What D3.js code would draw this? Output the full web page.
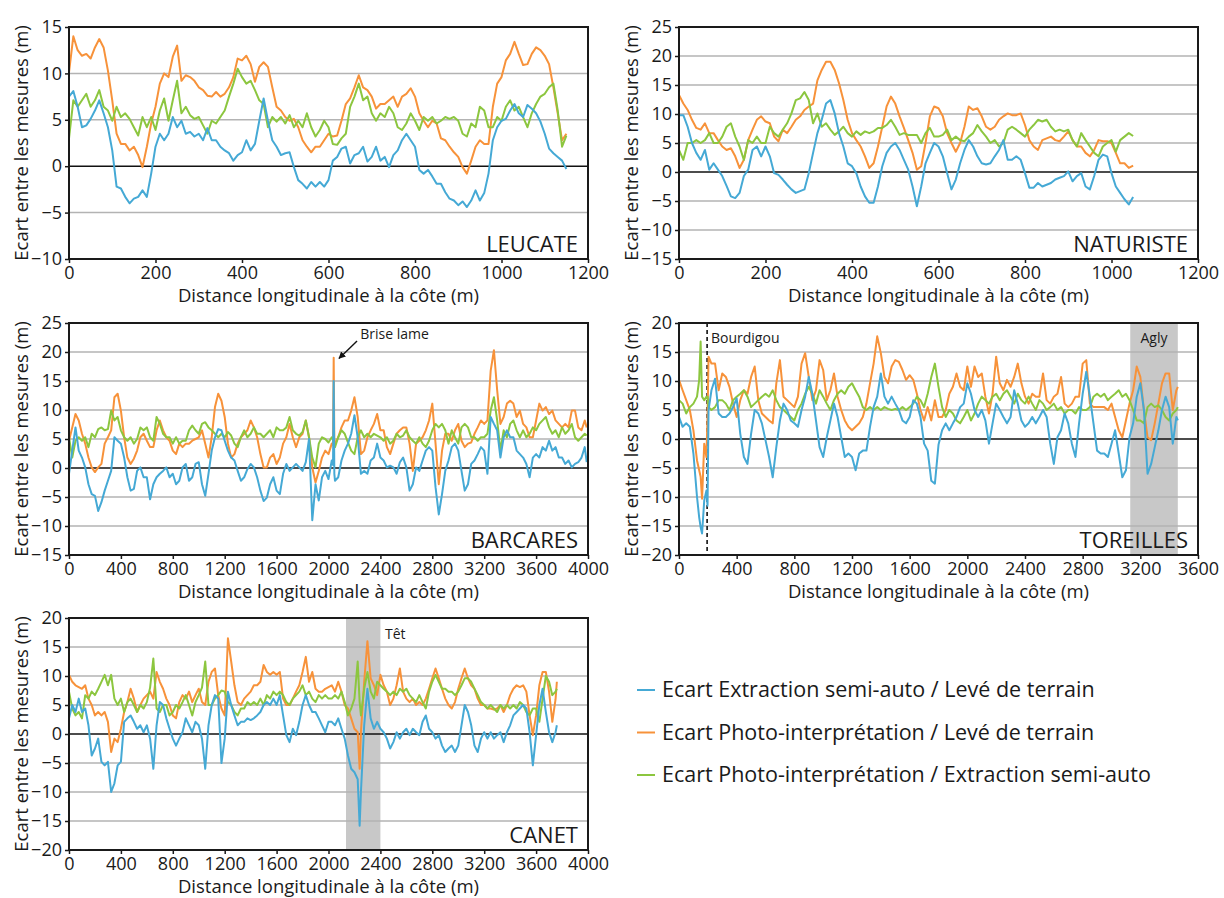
<!DOCTYPE html>
<html>
<head>
<meta charset="utf-8">
<script src="https://cdn.jsdelivr.net/npm/d3@7"></script>
<style>
  body { margin: 0; background: #fff; }
  svg text { font-family: 'Open Sans', 'Noto Sans', sans-serif; fill: #1a1a1a; }
</style>
</head>
<body>
<div id="chart"></div>
<script>
'use strict';

// legend
const seriesNames = [
  'Ecart Extraction semi-auto / Levé de terrain',
  'Ecart Photo-interprétation / Levé de terrain',
  'Ecart Photo-interprétation / Extraction semi-auto'
];
const seriesColors = ['#45a9d5', '#f7923a', '#8cc63f'];

// LEUCATE (every 10 m)
const leucateDist = d3.range(0, 1151, 10);
const leucateBlue = [
  7.5, 8.1, 6.4, 4.2, 4.4, 5.1, 6, 7.1, 5.7, 4.2,
  1.7, -2.2, -2.4, -3.3, -4, -3.5, -3.3, -2.6, -3.3, -0.8,
  2.1, 3.5, 2.8, 3.5, 5.3, 4.2, 4.9, 3.5, 3.7, 3.2,
  3.5, 2.8, 4.1, 2.8, 2.8, 2.1, 1.7, 1.4, 0.6, 1.2,
  1.5, 2.8, 1.7, 2.4, 4.9, 7.3, 4.9, 2.8, 2.1, 1.2,
  1.4, 1.5, -0.1, -1.5, -1.9, -2.4, -1.7, -2.2, -1.7, -2.2,
  -1.5, 0.6, 1, 1.9, 2.1, 0.3, 1.2, 1.4, 2.1, 0.5,
  1, 2.1, 0.6, 1, -0.1, 1.2, 1.7, 2.8, 3.5, 2.8,
  2.1, -0.4, -0.8, -0.4, -1.1, -1.9, -1.9, -2.8, -3.5, -3.7,
  -4.2, -3.8, -4.4, -3.7, -2.6, -3.7, -2.9, -0.8, 2.8, 4.2,
  4.9, 5.1, 6, 6.7, 5.7, 5.3, 6.6, 6.2, 5.7, 4.8,
  3.5, 1.9, 1.4, 1, 0.6, -0.3
];
const leucateOrange = [
  10.1, 14, 12.5, 11.9, 12.1, 11.6, 12.8, 13.7, 12.8, 10.3,
  7.1, 3.5, 2.4, 2.4, 1.7, 2.1, 1.2, -0.1, 2.1, 4.6,
  6.4, 8.9, 10, 9.6, 11.8, 13, 9.2, 9.8, 9.6, 9.2,
  8.5, 8.2, 7.6, 7.5, 8, 7.5, 7.8, 8.5, 9.6, 11.6,
  11.4, 11.9, 11, 9.1, 10.7, 11.2, 10.7, 8.5, 6.4, 6,
  5.3, 4.9, 5.1, 4.2, 2.8, 2.1, 1.5, 2.1, 2.1, 2.8,
  3.5, 3.2, 3.3, 4.9, 6.7, 7.3, 8.5, 9.8, 8.5, 8.2,
  7.5, 6.2, 6.7, 6.7, 7.1, 7.5, 6.4, 7.5, 7.8, 8.4,
  7.5, 5.7, 4.9, 4.2, 4.9, 4.6, 3, 2.8, 2.1, 1.5,
  1, -0.1, -0.8, 0.6, 2.1, 2.8, 2.4, 2.4, 6.4, 8.9,
  9.6, 11.4, 12.1, 13.4, 12.1, 10.9, 11, 12.1, 12.8, 12.5,
  11.9, 11, 8.5, 5.7, 2.8, 3.5
];
const leucateGreen = [
  3, 7.1, 6.4, 7.1, 7.8, 6.4, 7.1, 8.2, 6.4, 6,
  4.9, 6.4, 5.3, 5.7, 5.1, 4.2, 3.3, 5.3, 4.2, 5.3,
  3.9, 6, 7.3, 4.9, 7.1, 9.2, 5.7, 6.4, 5.5, 5.1,
  5.3, 4.4, 3.5, 4.9, 4.6, 5.3, 6, 7.5, 8.9, 10.5,
  9.6, 8.9, 9.2, 8.2, 7.1, 6.7, 4.2, 5.3, 4.8, 5.3,
  4.6, 5.5, 4.2, 4.9, 4.2, 5.7, 4.2, 3.2, 3.9, 4.9,
  4.2, 2.4, 2.3, 3, 3.5, 6.4, 7.5, 8.9, 7.1, 7.5,
  5.7, 4.9, 5.7, 5.3, 6.4, 5.7, 4.2, 3.9, 4.6, 5.7,
  4.9, 3.9, 5.3, 4.9, 5.3, 4.6, 4.9, 5.3, 5.1, 5.3,
  4.9, 3.5, 3.2, 4.6, 4.2, 6.4, 6, 4.2, 4.2, 5.3,
  4.9, 6.4, 7.1, 6, 6.4, 5.3, 4.2, 5.7, 6.7, 7.5,
  7.8, 8.5, 8.9, 6, 2.1, 3.3
];

// NATURISTE (every 10 m)
const naturisteDist = d3.range(0, 1051, 10);
const naturisteBlue = [
  9.8, 9.8, 7.8, 5, 3.3, 2.1, 3.8, 0.4, 1.5, 0.4,
  -0.7, -2.4, -4.2, -4.5, -3.6, -0.7, 0.4, 3.8, 4.4, 2.7,
  4.4, 2.7, -0.2, -0.5, -1.3, -2.2, -3, -3.6, -3.3, -3,
  -0.2, 3.3, 6.7, 9, 11.8, 12.4, 10.1, 6.7, 4.4, 1.5,
  1, -0.2, -2.5, -4.2, -5.3, -5.3, -2.5, 1, 3.3, 4.4,
  5, 3.8, 2.1, 0.4, -2.5, -5.9, -2.5, 1.5, 3.3, 5,
  4.4, 2.7, -0.2, -3, -1.3, 1.5, 3.8, 5.5, 4.4, 2.7,
  1.5, 1.3, 1.5, 2.7, 3.8, 5.5, 2.1, 2.1, 2.7, 2.1,
  -0.2, -2.7, -2.7, -1.9, -2.5, -2.2, -1.9, -1.3, -1, -0.7,
  0.1, -1.6, -0.7, -0.2, -2.5, -3, -0.7, 2.1, 3, 2.7,
  -0.2, -2.5, -3.6, -4.7, -5.6, -4.3
];
const naturisteOrange = [
  13.3, 11.8, 10.7, 9, 7.6, 7.3, 8.4, 6.7, 6.7, 5.5,
  4.4, 3.8, 4.1, 2.7, 0.7, 2.1, 5.5, 7.3, 9, 9.6,
  8.7, 8.4, 6.1, 5.3, 7.3, 6.7, 7.8, 9, 9.6, 10.7,
  11.3, 11.8, 15.8, 17.6, 19, 19, 17.6, 15.3, 12.4, 9,
  6.7, 5.5, 4.4, 2.7, 0.7, 1.5, 4.4, 7.8, 11.3, 13,
  11.8, 9.6, 7.6, 5.5, 3.3, 0.4, 1, 5, 9.6, 11.3,
  11, 9.6, 6.7, 5, 3.5, 5, 7.8, 11.3, 10.7, 11,
  9.6, 7.8, 7.3, 7.8, 9, 9.6, 10.1, 9.8, 9.8, 10.1,
  8.1, 5.5, 4.4, 3.8, 5.5, 5.8, 6.1, 5.5, 5.3, 6.1,
  7, 5.5, 4.4, 4.4, 3.3, 2.7, 3.8, 5.5, 5.3, 5.3,
  5, 3.3, 1.5, 1.5, 0.7, 1.1
];
const naturisteGreen = [
  3.8, 2.1, 5, 5, 5.5, 5, 5.5, 6.7, 5, 5,
  6.1, 7.8, 8.4, 6.1, 4.4, 2.1, 5.5, 5, 6.1, 5,
  5, 7.8, 6.7, 6.1, 7.3, 8.4, 10.1, 12.4, 12.7, 13.8,
  12.4, 8.4, 10.1, 7.8, 8.4, 7.3, 6.4, 7, 7.8, 6.7,
  6.1, 7, 6.4, 7, 6.7, 7, 7.6, 7.6, 8.1, 9,
  7.8, 6.4, 6.7, 6.4, 6.4, 6.4, 5, 6.7, 7.6, 6.1,
  6.1, 6.4, 7.3, 5.5, 6.1, 5.5, 5.3, 6.1, 6.7, 8.1,
  7, 6.1, 5, 5.5, 4.4, 5, 7.3, 7.8, 7.3, 6.7,
  6.1, 7.3, 8.1, 9, 8.7, 9, 7.8, 7, 7.3, 7,
  7.3, 5.5, 4.4, 6.7, 5.5, 4.4, 3.3, 2.7, 4.4, 5,
  5.5, 3.5, 5.5, 6.1, 6.7, 6.2
];

// BARCARES (every 25 m, plus the breakwater spike)
const barcaresDist = [...d3.range(0, 2026, 25), 2035, 2040, 2045, ...d3.range(2050, 3976, 25), 3990];
const barcaresBlue = [
  -1, 3, 7, 3, 1.8, 0.1, -2.8, -4.5, -4.8, -7.4,
  -5.9, -3.9, -2.2, -0.5, 5.3, 4.7, 4.2, 1.8, -1.6, -3.9,
  -3.6, -0.5, 0.1, -1.6, -1.6, -5.4, -2.8, -1.6, -1, -0.5,
  0.1, -1.6, -1, -2.8, -2.2, 0.1, 0.7, -2.2, -1.6, 0.7,
  1, -2.8, -4.8, -1, 3, 5.3, 6.7, 6.5, 4.7, 3,
  1.8, 1.3, -0.5, -2.2, -1.6, -0.2, 0.7, 0.1, -1.6, -3.9,
  -5.7, -5.1, -2.8, -1.6, -3.9, -4.5, -1, 0.7, -0.5, 0.1,
  0.7, 0.1, -0.5, 1, 5, -9, -2.8, -5.6, -1.6, -0.5,
  -1.9, 1.3,
  0.5, 15, -1,
  -2.2, -1.6, 1.3, 3, 4.2, 5.9, 9.1, 5.3, -1, -0.5,
  -1, 1.3, 1.8, 4.2, 1.8, 1.3, 0.1, 0.4, 0.1, -1,
  1, 1.8, 0.1, -3.9, -2.8, 0.1, -0.5, 1.3, 3, 3.6,
  3, -3.3, -8, -4.5, -0.5, 1.3, 3.6, 4.2, 3, -0.5,
  -3.9, -2.8, 0.7, 1.3, 2.4, 3.6, 3, -1, 8.8, 7.6,
  6.5, 1.8, 5.3, 6.5, 5.3, 5.3, 3, 2.4, 1.8, 0.7,
  -1.6, 1.8, 2.4, 1.8, 3.6, 3, 4.7, 3, 3.6, 1.8,
  1.8, 0.7, 1.3, 0.1, 0.7, 1, 1.8, 3.6,
  1
];
const barcaresOrange = [
  4.7, 7, 9.3, 8.2, 5.9, 4.2, 1.8, 0.1, -0.7, 0.1,
  0.7, 4.2, 5.3, 6.5, 12.2, 12.8, 9.9, 5.3, 1.8, 0.7,
  1.6, 3, 5.3, 5.9, 4.7, 3.6, 3.6, 6.5, 8.2, 6.5,
  5.3, 4.7, 3, 2.4, 4.2, 3.6, 4.2, 4.2, 4.7, 5,
  5.3, 6.5, 4.2, 1.8, 5.3, 10.5, 12.8, 11.6, 8.8, 4.2,
  1.8, 2.4, 4.2, 5.3, 5.9, 6.5, 8.2, 7, 5.3, 2.4,
  0.1, 0.1, 1.8, 2.4, 0.7, 1.8, 4.2, 5.3, 7.6, 5.3,
  3.6, 5.3, 5.9, 8.2, 5.3, 0.1, -2.5, -0.5, 1.8, 3,
  2.4, 4.2,
  4, 19, 4.5,
  4.2, 5.3, 7, 8.2, 8.2, 9.9, 12.2, 8.8, 2.4, 3,
  5.3, 6.5, 7.6, 9.3, 6.5, 6.5, 3.6, 2.4, 4.2, 5.9,
  6.5, 7, 7, 4.2, -0.5, 4.2, 4.7, 5.3, 6.5, 8.2,
  11.1, 4.2, -2.8, 3, 5.9, 5.9, 4.7, 6.5, 7.6, 4.7,
  3.6, 4.2, 4.4, 5.9, 7, 8.2, 7.6, 8.2, 16.8, 20.3,
  13.4, 7.6, 8.8, 11.1, 11.6, 11.1, 8.8, 9.9, 7.6, 7,
  5.3, 5.3, 8.2, 11.1, 9.9, 10.5, 9.3, 9.9, 8.2, 7.6,
  7, 7.6, 7, 9.9, 9.9, 7, 6.5, 8.2,
  7
];
const barcaresGreen = [
  5.3, 1.8, 4.7, 5.3, 4.7, 5.3, 3.6, 5.9, 5.3, 6.7,
  7, 6.5, 6.7, 9.9, 8.2, 8.8, 6.5, 5.3, 4.7, 5.3,
  4.2, 5, 7, 6.5, 7, 5.3, 4.7, 8.8, 7.6, 5.9,
  5.3, 5.3, 4.2, 5.3, 4.2, 4.7, 4.7, 6.5, 7.3, 6.5,
  5.9, 7.6, 7.9, 7, 6.5, 5.9, 5.3, 5.9, 5.3, 6.2,
  5.6, 4.2, 3.6, 5.3, 6.5, 5.3, 5.9, 7, 5.9, 5.9,
  5.3, 5.9, 6.5, 5.3, 7, 6.5, 6.5, 7, 8.8, 6.5,
  5.9, 5.6, 6.2, 8.2, 5.3, 1.8, 0.1, 4.2, 5.3, 5,
  4.4, 5.3,
  5, 4.5, 4,
  3.6, 5.3, 6.5, 5.9, 4.4, 3, 2.4, 5.3, 6.5, 5.3,
  5.9, 5.3, 5.9, 5.6, 5.3, 4.7, 5.3, 4.2, 4.7, 5.9,
  5.3, 5.6, 6.5, 5.3, 4.7, 4.2, 5.3, 4.2, 3.6, 4.7,
  6.5, 7.6, 7, 7.6, 6.5, 4.2, 6.5, 5.3, 4.2, 7,
  7.6, 7, 5.3, 5.3, 4.7, 5.3, 5.3, 5.9, 9.9, 12.2,
  8.2, 3, 6.5, 5.3, 7.6, 8.2, 6.5, 5.3, 6.5, 5.3,
  5.9, 7, 6.5, 7.6, 8.2, 8.8, 7, 5.9, 6.5, 5.3,
  7, 5.9, 6.5, 7.6, 5.3, 4.7, 5.3, 5.9,
  5.6
];

// TOREILLES (every 25 m, denser near the Bourdigou mouth)
const toreillesDist = [0, 25, 50, 75, 100, 125, 140, 150, 160, 175, 190, 198, 205, 225, ...d3.range(250, 3451, 25), 3460];
const toreillesBlue = [
  3.8, 2.1, 2.7, 2.1, -2.5, -10, -13.5, -15.2, -16.3, -10.6, -8.9, -11.5, 5, 8.4,
  10.4, 4.4, 3.8, 3.8, 4.4, 5.5, 7, 0.9, -3.1, -4.3,
  0.9, 5, 4.4, 2.7, -0.2, -3.1, -6.6, -1.4, 3.2, 6.1,
  5, 3.2, 2.7, 2.1, 5, 7.3, 10.7, 7.8, 3.2, -1.4,
  -3.1, 0.3, 3.2, 6.1, 3.8, 0.3, -3.1, -2.5, -3.1, -5.4,
  -2.5, -2, -2, 2.1, 5.5, 7.3, 11.3, 7.3, 6.1, 7.3,
  6.1, 5, 3.2, 2.7, 3.8, 6.7, 6.1, 3.8, -0.8, -2,
  -7.2, -7.7, -1, 1.5, 2.7, 1.5, 2.7, 3.8, 5.5, 6.1,
  9.6, 7.8, 5, 3.8, 5, 3.2, -0.8, 2.7, 6.1, 5,
  3.8, 2.7, 3.8, 8.4, 6.1, 3.2, 2.1, 2.7, 3.8, 2.7,
  3.8, 5, 3.8, -0.8, -4.3, 0.3, 1.5, 4.4, 2.7, -0.8,
  -3.1, 2.7, 7.8, 11.6, 7.3, 2.7, -2, -2.5, -2.5, -3.1,
  -0.8, 1.5, -2.5, -6.6, -5.4, 0.3, 2.7, 7.3, 9.6, 5,
  -6, -4.3, -1.4, 1.5, 5, 7.3, 5.5, -0.8, 3.8,
  3.2
];
const toreillesOrange = [
  10.2, 8.4, 6.7, 5, 1.5, -3.7, -5.4, -6.5, -10.3, -0.8, -3.1, 4, 14.2, 13,
  13, 8.4, 11.3, 10.7, 9, 6.1, 3.8, 6.7, 8.4, 7.8,
  10.7, 12.5, 6.7, 4.4, 3.8, 3.2, 2.7, 9.6, 13.6, 7.3,
  6.7, 6.1, 5.5, 7.3, 13, 14.8, 10.7, 6.7, 8.4, 13.6,
  11.9, 6.7, 8.4, 11.3, 7.3, 5, 3.2, 2.1, 1.5, 2.1,
  2.7, 3.8, 6.1, 9.6, 13, 17.7, 14.8, 10.7, 9.6, 12.5,
  13.6, 13.3, 11.9, 10.2, 11, 10.2, 7.8, 5, 3.2, 5.5,
  3.2, 6.7, 3.8, 3.8, 5, 7.8, 9, 11.3, 9, 8.4,
  12.5, 9, 12.5, 10.7, 11.3, 7.3, 4.4, 7.8, 14.2, 9.6,
  8.4, 10.2, 9, 10.7, 13, 9.6, 7.3, 6.1, 7.8, 7.3,
  7.3, 11.3, 6.7, 6.1, 7.3, 7.8, 10.7, 6.1, 5.5, 6.1,
  7.3, 7.3, 13, 13.6, 6.1, 5.5, 5.5, 5.5, 5.5, 5,
  6.1, 3.8, 1.5, 0.3, 3.2, 6.1, 8.4, 12.5, 10.7, 5,
  0.3, -0.2, 2.7, 6.1, 9.6, 11.3, 11.3, 5, 8.4,
  9
];
const toreillesGreen = [
  6.7, 6.1, 4.4, 5.5, 6.1, 7.3, 10.2, 16.8, 7.3, 6.7, 7.3, 7.3, 5.5, 5,
  5.5, 6.7, 6.7, 6.1, 5, 6.7, 7.3, 7.8, 8.4, 7.3,
  5.5, 6.1, 6.7, 7.3, 7.8, 7.3, 8.4, 6.7, 5.5, 5,
  4.4, 3.8, 3.2, 5, 6.1, 7.8, 9, 7.8, 6.1, 8.4,
  7.3, 6.1, 5, 6.7, 7.8, 8.4, 7.8, 9, 9.6, 8.4,
  7.3, 5.5, 5, 5.5, 5, 5.5, 5, 5.5, 5.2, 5,
  5.2, 5, 5.5, 5, 5.5, 6.1, 7.3, 6.7, 5.5, 7.8,
  10.7, 13, 9, 5.5, 3.8, 5, 4.4, 3.2, 2.7, 3.8,
  5, 3.2, 4.4, 6.1, 7.3, 6.7, 6.1, 7.3, 7.8, 6.7,
  7.8, 8.4, 7.3, 6.1, 7.8, 6.7, 6.1, 7.3, 6.1, 5,
  6.7, 6.1, 5, 5.5, 6.1, 5, 5.5, 4.4, 5, 5,
  4.4, 5.5, 5, 5, 5.5, 7.3, 7.8, 7.3, 7.8, 6.7,
  7.3, 7.8, 8.4, 7.3, 7.8, 6.7, 5, 3.2, 3.2, 2.7,
  5.5, 6.1, 5.5, 5.8, 5, 3.8, 3.2, 4.4, 5,
  5.5
];

// CANET (every 25 m, plus the Têt low point)
const canetDist = [...d3.range(0, 2226, 25), 2240, ...d3.range(2250, 3751, 25), 3760];
const canetBlue = [
  2.7, 5, 3.8, 6.1, 3.8, 4.4, 1.5, -3.7, -2.5, -0.8,
  -4.8, -5.4, -4.8, -10, -8.5, -5.4, -4.8, 2.1, 2.7, 3.2,
  2.1, 0.9, 1.5, 0.3, 1.5, -0.8, -6, 1.5, 5.5, 5,
  2.7, 0.9, -0.8, -2, -0.8, 0.3, 2.7, 1.5, 0.3, 2.1,
  1.5, -0.8, -6, 1.5, 5, 6.7, 6.1, -5, -0.8, 7.3,
  5, 3.2, 1.5, 2.1, 2.1, 2.7, 2.4, 2.7, 3.2, 3.8,
  5, 5.5, 5, 6.1, 5, 6.7, 3.2, -0.2, -1.4, 0.9,
  -0.2, 2.1, 5, 6.7, 5, 3.8, 3.8, 2.7, 1.5, 0.3,
  2.1, 2.1, 1.5, 2.7, 0.9, -0.8, -3.7, -6, -6.6, -7.8,
  -15.8,
  -10, 1.5, 7.8, 2.7, 0.9, 2.1, 0.9, 0.3, -0.8, -2.5,
  -1.4, 0.3, -0.8, 0.3, 0.9, -0.2, 0.9, 0.3, -0.2, 2.1,
  3.2, 0.9, 0.3, -0.8, -0.2, -2, -3.1, -2.5, -2, -3.1,
  -2, 1.5, 5, 3.8, 1.5, -2, -3.1, -0.8, 0.3, -0.8,
  0.3, -0.8, -0.2, 0.3, -1.4, 0.3, 1.5, 3.2, 3.8, 4.4,
  5, 4.4, 0.3, -5.4, -0.2, 5, 7.8, 3.8, 0.3, -1.4,
  0.3,
  1.5
];
const canetOrange = [
  10.2, 9, 8.4, 8.1, 7.8, 8.4, 6.1, 5, 3.2, 3.8,
  3.2, 3.8, 2.1, -3.1, -0.8, -1.4, 0.9, 3.8, 5.5, 7.8,
  6.1, 3.8, 5, 6.1, 6.7, 7.3, 6.1, 10.7, 9, 7.8,
  6.1, 5, 3.2, 2.7, 5.5, 6.7, 6.1, 7.3, 5.5, 6.7,
  7.8, 5.5, 5, 9, 10.7, 11.3, 6.7, 4.4, 3.2, 16.5,
  12.5, 8.4, 5.5, 5, 6.1, 6.7, 7.3, 8.4, 8.4, 9,
  11.9, 10.7, 10.2, 10.7, 10.2, 10.7, 6.1, 5, 5, 6.1,
  7.3, 8.4, 10.7, 13.3, 9, 10.7, 7.8, 7.3, 7.3, 7.8,
  8.1, 8.4, 7.3, 9, 7.3, 5, 4.4, 2.7, 0.9, 0.3,
  -6,
  0.3, 9, 16, 9.6, 8.4, 6.7, 10.2, 8.4, 7.3, 5,
  6.1, 8.4, 11.3, 7.3, 6.1, 5.5, 6.1, 5, 5.5, 5,
  6.1, 7.8, 9.6, 11.3, 9.6, 7.8, 6.1, 5, 4.4, 5.5,
  7.8, 9.6, 11.3, 9.6, 8.4, 7.8, 6.1, 5, 5, 4.4,
  4.4, 4.2, 4.4, 5, 3.8, 5, 6.7, 7.8, 8.4, 8.1,
  8.4, 7.3, 3.2, -0.2, 3.2, 8.4, 10.7, 10.7, 7.3, 2.1,
  6,
  9
];
const canetGreen = [
  7.3, 4.4, 3.2, 3.8, 2.7, 6.7, 6.1, 7.3, 6.7, 7.8,
  9, 10.2, 8.4, 10.2, 6.1, 5, 6.1, 3.8, 5.5, 6.1,
  5, 3.8, 5, 4.4, 5.5, 8, 13, 4.4, 3.8, 5,
  5, 3.2, 3.8, 5, 4.4, 5.5, 6.7, 5, 3.2, 5.5,
  6.7, 8, 12.5, 5, 5, 6.1, 6.7, 7.5, 7.3, 5.5,
  5, 3.8, 3.2, 4.4, 4.4, 5.5, 5, 5.5, 5, 6.1,
  5, 6.7, 6.1, 7.3, 6.7, 7.3, 6.7, 5.5, 5, 6.1,
  6.7, 7.3, 8.4, 6.7, 7.3, 6.1, 5.5, 6.7, 6.1, 6.7,
  6.1, 6.1, 6.7, 6.1, 7.3, 5.5, 3.2, 4.4, 6.1, 12.5,
  5.5,
  3.2, 7.8, 10.7, 7.3, 6.1, 9, 8.4, 7.8, 7.3, 6.7,
  7.3, 6.7, 7.8, 7.3, 7.8, 6.7, 6.1, 5.5, 6.7, 5.5,
  4.4, 7.3, 9, 10.2, 9, 7.8, 7.8, 7.3, 7.3, 6.7,
  7.3, 8.4, 9.6, 9.6, 9, 7.8, 6.7, 5.5, 5, 4.4,
  5, 4.4, 3.8, 5, 4.4, 5, 4.4, 5, 4.4, 5.5,
  5, 3.8, 3.2, 4.4, 4.4, 2.1, 6.1, 10, 9, 6.7,
  7.3,
  7.8
];

// axes ticks
const ticksLeucateY = [-10, -5, 0, 5, 10, 15];
const ticksWideY = [-15, -10, -5, 0, 5, 10, 15, 20, 25];
const ticksSymY = [-20, -15, -10, -5, 0, 5, 10, 15, 20];
const ticksShortX = [0, 200, 400, 600, 800, 1000, 1200];
const ticksLongX = [0, 400, 800, 1200, 1600, 2000, 2400, 2800, 3200, 3600, 4000];
const ticksToreillesX = [0, 400, 800, 1200, 1600, 2000, 2400, 2800, 3200, 3600];

const width = 1224;
const height = 898;
const plotW = 519;
const plotH = 232;

const svg = d3.select('#chart')
  .append('svg')
  .attr('width', width)
  .attr('height', height);

const panels = [
  { name: 'LEUCATE', left: 69, top: 27, xMax: 1200, yDom: [-10, 15], yTicks: ticksLeucateY, xTicks: ticksShortX,
    dist: leucateDist, series: [leucateBlue, leucateOrange, leucateGreen] },
  { name: 'NATURISTE', left: 679, top: 27, xMax: 1200, yDom: [-15, 25], yTicks: ticksWideY, xTicks: ticksShortX,
    dist: naturisteDist, series: [naturisteBlue, naturisteOrange, naturisteGreen] },
  { name: 'BARCARES', left: 69, top: 323, xMax: 4000, yDom: [-15, 25], yTicks: ticksWideY, xTicks: ticksLongX,
    dist: barcaresDist, series: [barcaresBlue, barcaresOrange, barcaresGreen] },
  { name: 'TOREILLES', left: 679, top: 323, xMax: 3600, yDom: [-20, 20], yTicks: ticksSymY, xTicks: ticksToreillesX,
    dist: toreillesDist, series: [toreillesBlue, toreillesOrange, toreillesGreen],
    bands: [[3130, 3460]], dashed: 195 },
  { name: 'CANET', left: 69, top: 618, xMax: 4000, yDom: [-20, 20], yTicks: ticksSymY, xTicks: ticksLongX,
    dist: canetDist, series: [canetBlue, canetOrange, canetGreen],
    bands: [[2135, 2400]] }
];

const scales = {};
panels.forEach(p => { scales[p.name] = drawPanel(p); });

// annotations
const bx = scales.BARCARES;
svg.append('defs').append('marker')
  .attr('id', 'arrow')
  .attr('viewBox', '0 0 10 10')
  .attr('refX', 9).attr('refY', 5)
  .attr('markerWidth', 5).attr('markerHeight', 5)
  .attr('orient', 'auto')
  .append('path').attr('d', 'M0,0L10,5L0,10z').attr('fill', '#111');
svg.append('line')
  .attr('x1', bx.x(2220)).attr('y1', bx.y(21.9))
  .attr('x2', bx.x(2081)).attr('y2', bx.y(18.9))
  .attr('stroke', '#111').attr('stroke-width', 1.4)
  .attr('marker-end', 'url(#arrow)');
svg.append('text')
  .attr('x', bx.x(2245)).attr('y', bx.y(22.2))
  .attr('font-size', 14).text('Brise lame');

const tx = scales.TOREILLES;
svg.append('text').attr('x', tx.x(222)).attr('y', tx.y(16.5)).attr('font-size', 14).text('Bourdigou');
svg.append('text').attr('x', tx.x(3295)).attr('y', tx.y(16.5)).attr('font-size', 14)
  .attr('text-anchor', 'middle').text('Agly');

const cx = scales.CANET;
svg.append('text').attr('x', cx.x(2435)).attr('y', cx.y(16.4)).attr('font-size', 14).text('Têt');

// legend
const legend = svg.append('g').attr('transform', 'translate(637, 690)');
seriesNames.forEach((n, i) => {
  const row = legend.append('g').attr('transform', `translate(0, ${i * 42.5})`);
  row.append('line').attr('x1', 0).attr('x2', 18).attr('stroke', seriesColors[i]).attr('stroke-width', 2);
  row.append('text').attr('x', 25).attr('y', 7).attr('font-size', 21.5).text(n);
});

function drawPanel(p) {
  const x = d3.scaleLinear().domain([0, p.xMax]).range([p.left, p.left + plotW]);
  const y = d3.scaleLinear().domain(p.yDom).range([p.top + plotH, p.top]);
  const g = svg.append('g');

  (p.bands || []).forEach(b => {
    g.append('rect')
      .attr('x', x(b[0])).attr('y', p.top)
      .attr('width', x(b[1]) - x(b[0])).attr('height', plotH)
      .attr('fill', '#c8c8c8');
  });

  // grid
  g.selectAll('line.grid')
    .data(p.yTicks.filter(v => v !== 0 && v !== p.yDom[0] && v !== p.yDom[1]))
    .enter().append('line')
    .attr('class', 'grid')
    .attr('x1', p.left).attr('x2', p.left + plotW)
    .attr('y1', d => y(d)).attr('y2', d => y(d))
    .attr('stroke', '#b3b3b3').attr('stroke-width', 1.5);

  if (p.dashed !== undefined) {
    g.append('line')
      .attr('x1', x(p.dashed)).attr('x2', x(p.dashed))
      .attr('y1', p.top).attr('y2', p.top + plotH)
      .attr('stroke', '#111').attr('stroke-width', 1.6)
      .attr('stroke-dasharray', '4,3');
  }

  // zero line
  g.append('line')
    .attr('x1', p.left).attr('x2', p.left + plotW)
    .attr('y1', y(0)).attr('y2', y(0))
    .attr('stroke', '#111').attr('stroke-width', 1.6);

  // series (orange, green, then blue on top)
  const line = d3.line()
    .x((d, i) => x(p.dist[i]))
    .y(d => y(d));
  [1, 2, 0].forEach(k => {
    g.append('path')
      .datum(p.series[k])
      .attr('d', line)
      .attr('fill', 'none')
      .attr('stroke', seriesColors[k])
      .attr('stroke-width', 2)
      .attr('stroke-linejoin', 'round');
  });

  // frame
  g.append('rect')
    .attr('x', p.left).attr('y', p.top)
    .attr('width', plotW).attr('height', plotH)
    .attr('fill', 'none').attr('stroke', '#1a1a1a').attr('stroke-width', 2);

  const yAxis = g.append('g')
    .attr('transform', `translate(${p.left},0)`)
    .call(d3.axisLeft(y).tickValues(p.yTicks).tickSize(4).tickPadding(3).tickFormat(d3.format('d')));
  const xAxis = g.append('g')
    .attr('transform', `translate(0,${p.top + plotH})`)
    .call(d3.axisBottom(x).tickValues(p.xTicks).tickSize(4).tickPadding(3).tickFormat(d3.format('d')));
  [yAxis, xAxis].forEach(a => {
    a.select('.domain').remove();
    a.selectAll('.tick line').attr('stroke', '#1a1a1a').attr('stroke-width', 1.5);
    a.selectAll('.tick text').attr('font-size', 18).attr('font-family', "'Open Sans', sans-serif").attr('fill', '#1a1a1a');
  });

  // titles
  g.append('text')
    .attr('transform', `translate(${p.left - 49},${p.top + plotH / 2}) rotate(-90)`)
    .attr('text-anchor', 'middle')
    .attr('dominant-baseline', 'central')
    .attr('font-size', 18.5)
    .text('Ecart entre les mesures (m)');
  g.append('text')
    .attr('x', p.left + plotW / 2)
    .attr('y', p.top + plotH + 43)
    .attr('text-anchor', 'middle')
    .attr('font-size', 18.5)
    .text('Distance longitudinale à la côte (m)');
  g.append('text')
    .attr('x', p.left + plotW - 10)
    .attr('y', p.top + plotH - 7)
    .attr('text-anchor', 'end')
    .attr('font-family', 'Lato, sans-serif')
    .attr('font-size', 22)
    .text(p.name);

  return { x, y };
}
</script>
</body>
</html>
